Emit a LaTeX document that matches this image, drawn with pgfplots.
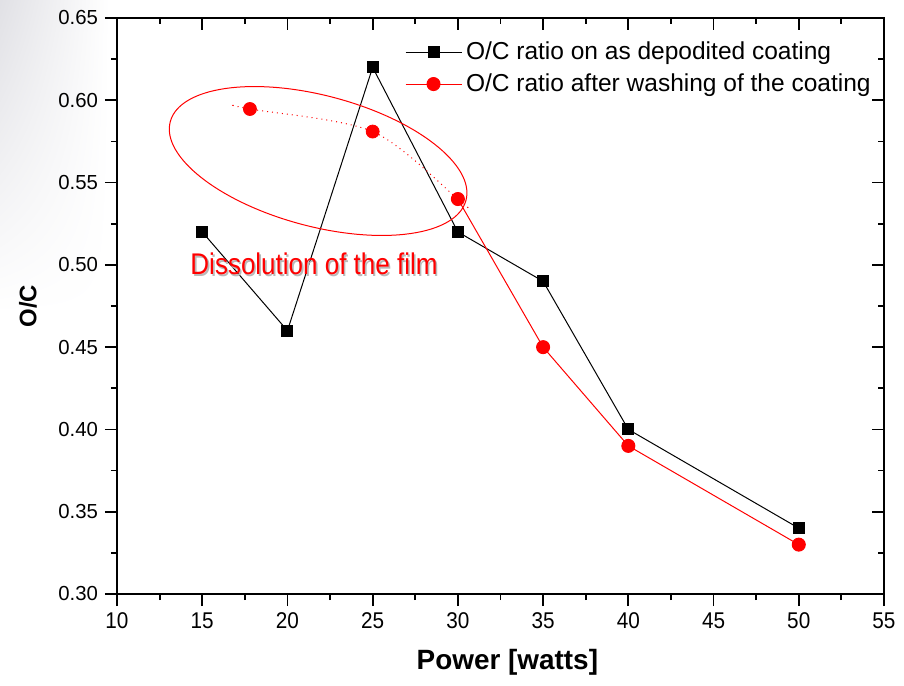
\documentclass[border=0pt]{standalone}
\usepackage{fontspec}
\setmainfont{Liberation Sans}
\usepackage{graphicx}
\usepackage{pgfplots}
\pgfplotsset{compat=1.18}
\usetikzlibrary{shapes.geometric,shadings}

\begin{document}
\begin{tikzpicture}
% faint backdrop at the top left corner
\shade[upper left=blue!8!gray!22, upper right=white, lower left=white, lower right=white]
  (-58.5bp,140bp) rectangle (-4bp,297bp);

\pgfplotsset{
  oc/.style={
    scale only axis, width=383.5bp, height=288bp,
    xmin=10, xmax=55, ymin=0.30, ymax=0.65,
    xtick={10,15,20,25,30,35,40,45,50,55},
    ytick={0.30,0.35,0.40,0.45,0.50,0.55,0.60,0.65},
    minor x tick num=1, minor y tick num=1,
    major tick length=6bp, minor tick length=3bp,
    every tick/.style={black, line width=0.9bp},
    axis line style={line width=1bp},
  }
}

\begin{axis}[
  oc,
  tick align=outside, xtick pos=left, ytick pos=left,
  /pgf/number format/assume math mode=true,
  ticklabel style={font=\fontsize{10.2}{12}\selectfont},
  xticklabel={\scalebox{1.02}[1.12]{\pgfmathprintnumber{\tick}}},
  yticklabel style={/pgf/number format/.cd, fixed, fixed zerofill, precision=2},
  xlabel={Power [watts]},
  ylabel={O/C},
  xlabel style={font=\bfseries\fontsize{14}{16}\selectfont, at={(axis description cs:0.509,-0.118)}, anchor=center},
  ylabel style={font=\bfseries\fontsize{12}{14}\selectfont, at={(axis description cs:-0.116,0.5)}, anchor=center},
  legend style={at={(rel axis cs:0.375,0.966)}, anchor=north west, draw=none, fill=none,
    inner sep=0pt, font=\fontsize{12.3}{14}\selectfont, row sep=1.5bp},
  legend cell align=left,
  legend image code/.code={\draw[mark repeat=2, mark phase=2, #1] plot coordinates {(0bp,0bp) (14bp,0bp) (28bp,0bp)};},
]
\addplot[black, line width=0.5bp, mark=square*, mark size=2.75bp, mark options={solid}]
  coordinates {(15,0.52)(20,0.46)(25,0.62)(30,0.52)(35,0.49)(40,0.40)(50,0.34)};
\addlegendentry{O/C ratio on as depodited coating}

\addplot[red, line width=0.5bp, mark=*, mark size=3.25bp, mark options={solid}]
  coordinates {(30,0.54)(35,0.45)(40,0.39)(50,0.33)};
\addlegendentry{O/C ratio after washing of the coating}

% dissolved part, dotted
\addplot[red, dotted, line width=0.5bp, smooth, forget plot]
  coordinates {(16.8,0.597)(17.8,0.5947)(25,0.581)(30,0.54)(30.6,0.5345)};
\addplot[red, only marks, mark=*, mark size=3.25bp, forget plot]
  coordinates {(17.8,0.5947)(25,0.581)};

\node[draw=red, line width=0.5bp, ellipse, minimum width=153bp, minimum height=65.4bp,
  inner sep=0pt, rotate=-14.9] at (axis cs:21.8,0.5631) {};
\node[text=gray!55, font=\fontsize{15}{18}\selectfont, xshift=0.8bp, yshift=-0.8bp]
  at (axis cs:21.56,0.5006) {\scalebox{0.87}[1]{Dissolution of the film}};
\node[text=red, font=\fontsize{15}{18}\selectfont]
  at (axis cs:21.56,0.5006) {\scalebox{0.87}[1]{Dissolution of the film}};
\end{axis}

\begin{axis}[
  oc,
  tick align=inside, xtick pos=right, ytick pos=right,
  xticklabels={}, yticklabels={},
]
\end{axis}

\pgfresetboundingbox
\path (-58.5bp,-46bp) rectangle (393.5bp,297bp);
\end{tikzpicture}
\end{document}
